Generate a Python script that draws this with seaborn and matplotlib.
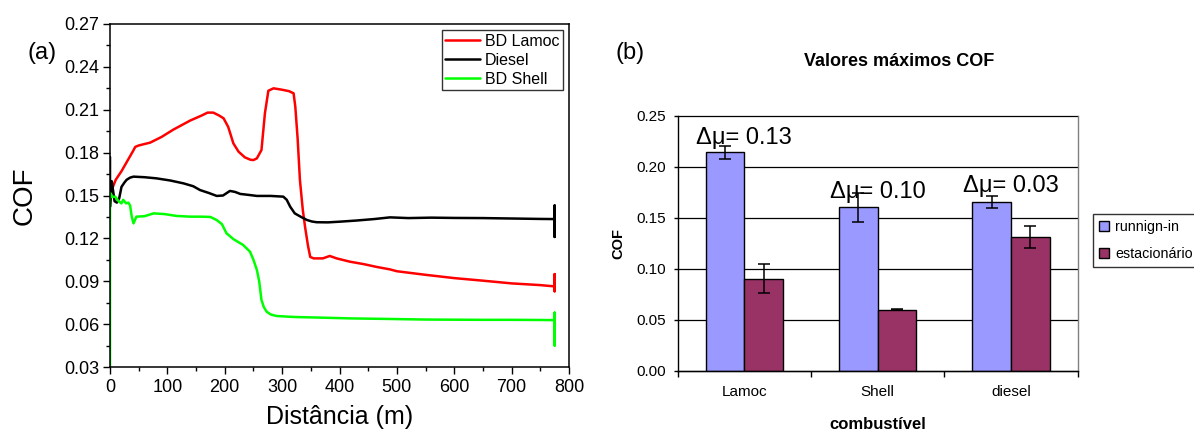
import pandas as pd
import seaborn as sns
import matplotlib.pyplot as plt
from matplotlib.ticker import MultipleLocator, FormatStrFormatter, FixedLocator

# (a) curvas de COF x distancia
dist_lamoc = [0, 5, 10, 20, 30, 40, 44, 50, 70, 90,
              110, 140, 160, 170, 180, 190, 198, 206, 215, 224,
              235, 245, 250, 256, 264, 270, 276, 285, 300, 312,
              320, 323, 327, 331, 336, 340, 345, 349, 355, 371,
              383, 395, 418, 442, 465, 488, 500, 550, 600, 650,
              700, 750, 775, 775, 775, 775]
cof_lamoc = [0.151, 0.156, 0.161, 0.167, 0.174, 0.181, 0.184, 0.185, 0.187, 0.191,
             0.196, 0.2025, 0.206, 0.208, 0.208, 0.206, 0.204, 0.198, 0.1865, 0.1807,
             0.1767, 0.175, 0.1748, 0.176, 0.1818, 0.2075, 0.2233, 0.225, 0.224, 0.223,
             0.2215, 0.212, 0.19, 0.161, 0.14, 0.128, 0.115, 0.107, 0.106, 0.106,
             0.1077, 0.106, 0.1037, 0.102, 0.1, 0.0983, 0.097, 0.0945, 0.0922, 0.0904,
             0.0885, 0.0873, 0.0864, 0.095, 0.083, 0.086]

dist_diesel = [0, 0, 3, 8, 12, 16, 20, 25, 29, 35,
               41, 60, 81, 105, 128, 145, 157, 172, 186, 197,
               209, 218, 227, 240, 256, 280, 302, 308, 314, 322,
               333, 343, 352, 360, 380, 401, 430, 460, 488, 520,
               560, 600, 650, 700, 750, 775, 775, 775, 775]
cof_diesel = [0.177, 0.142, 0.16, 0.146, 0.145, 0.148, 0.156, 0.159, 0.161, 0.1625,
              0.1632, 0.1628, 0.162, 0.1605, 0.1585, 0.1565, 0.1538, 0.1518, 0.1497, 0.150,
              0.1532, 0.1525, 0.1511, 0.1505, 0.1497, 0.1497, 0.1492, 0.147, 0.1422, 0.1375,
              0.135, 0.1329, 0.1318, 0.1313, 0.1312, 0.1317, 0.1325, 0.1335, 0.1347, 0.1342,
              0.1345, 0.1343, 0.1342, 0.1339, 0.1336, 0.1335, 0.143, 0.121, 0.133]

dist_shell = [0, 0, 4, 9, 15, 20, 23, 28, 32, 35,
              38, 41, 46, 60, 76, 95, 116, 140, 157, 175,
              186, 195, 203, 215, 232, 244, 250, 256, 260, 264,
              268, 273, 280, 290, 320, 372, 420, 488, 550, 600,
              650, 700, 750, 775, 775, 775, 775]
cof_shell = [0.03, 0.152, 0.149, 0.1492, 0.146, 0.1445, 0.147, 0.1445, 0.145, 0.143,
             0.135, 0.1305, 0.1352, 0.1355, 0.1375, 0.137, 0.1357, 0.1352, 0.1352, 0.135,
             0.1328, 0.130, 0.1236, 0.1195, 0.1154, 0.1107, 0.105, 0.0979, 0.090, 0.0769,
             0.072, 0.0687, 0.0668, 0.0657, 0.065, 0.0645, 0.064, 0.0636, 0.0632, 0.0631,
             0.063, 0.063, 0.0629, 0.0628, 0.068, 0.045, 0.063]

# (b) valores maximos de COF
combustiveis = ['Lamoc', 'Shell', 'diesel']
cof_running = [0.214, 0.160, 0.165]
err_running = [0.0065, 0.0145, 0.0058]
cof_estac = [0.090, 0.060, 0.131]
err_estac = [0.0143, 0.0004, 0.011]
delta_mu = ['Δμ= 0.13', 'Δμ= 0.10', 'Δμ= 0.03']
delta_y = [0.222, 0.1696, 0.1749]

sns.set_style("ticks", {'axes.edgecolor': 'black', 'text.color': 'black',
                        'xtick.color': 'black', 'ytick.color': 'black',
                        'axes.labelcolor': 'black'})
plt.rcParams['font.family'] = ['Liberation Sans', 'DejaVu Sans']

fig = plt.figure(figsize=(11.94, 4.33), dpi=100)
W, H = 1194, 433
ax1 = fig.add_axes([110 / W, (H - 367) / H, 459 / W, 343 / H])
ax2 = fig.add_axes([677.7 / W, (H - 370.7) / H, 400 / W, 255 / H])

# grafico (a)
series = [(dist_lamoc, cof_lamoc, 'BD Lamoc', '#ff0000'),
          (dist_diesel, cof_diesel, 'Diesel', 'black'),
          (dist_shell, cof_shell, 'BD Shell', '#00ff00')]
for d, c, nome, cor in series:
    sns.lineplot(x=d, y=c, sort=False, estimator=None, color=cor, lw=1.8,
                 label=nome, ax=ax1)

ax1.set_xlim(0, 800)
ax1.set_ylim(0.03, 0.27)
ax1.xaxis.set_major_locator(MultipleLocator(100))
ax1.xaxis.set_minor_locator(MultipleLocator(50))
ax1.yaxis.set_major_locator(MultipleLocator(0.03))
ax1.yaxis.set_minor_locator(MultipleLocator(0.015))
ax1.yaxis.set_major_formatter(FormatStrFormatter('%.2f'))
ax1.tick_params(which='major', direction='out', length=5, width=1,
                labelsize=13, pad=2.5)
ax1.tick_params(axis='x', which='major', pad=4)
ax1.tick_params(which='minor', direction='out', length=3, width=1)
for s in ax1.spines.values():
    s.set_linewidth(1.1)
ax1.set_xlabel('Distância (m)', fontsize=18, labelpad=6)
ax1.set_ylabel('COF', fontsize=20, labelpad=19)
leg1 = ax1.legend(loc='upper right', fontsize=11.5, frameon=True, fancybox=False,
                  edgecolor='black', handlelength=2.2, borderpad=0.2,
                  labelspacing=0.25, handletextpad=0.3, borderaxespad=0.4)
leg1.get_frame().set_linewidth(1)
fig.text(42 / W, 1 - 53 / H, '(a)', ha='center', va='center', fontsize=17)

# grafico (b)
df = pd.DataFrame({'combustivel': combustiveis * 2,
                   'fase': ['runnign-in'] * 3 + ['estacionário'] * 3,
                   'cof': cof_running + cof_estac})
sns.barplot(data=df, x='combustivel', y='cof', hue='fase',
            palette=['#9999ff', '#993366'], saturation=1, width=0.58,
            edgecolor='black', linewidth=1, errorbar=None, ax=ax2)

for cont, erros in zip(ax2.containers, [err_running, err_estac]):
    xs = [b.get_x() + b.get_width() / 2 for b in cont]
    ys = [b.get_height() for b in cont]
    ax2.errorbar(xs, ys, yerr=erros, fmt='none', ecolor='black',
                 elinewidth=1.1, capsize=4, capthick=1.1, zorder=5)

for i, txt in enumerate(delta_mu):
    ax2.text(i, delta_y[i], txt, ha='center', va='baseline', fontsize=17, zorder=6)

ax2.set_xlim(-0.5, 2.5)
ax2.set_ylim(0, 0.25)
ax2.yaxis.set_major_locator(MultipleLocator(0.05))
ax2.yaxis.set_major_formatter(FormatStrFormatter('%.2f'))
ax2.xaxis.set_minor_locator(FixedLocator([-0.5, 0.5, 1.5, 2.5]))
ax2.tick_params(axis='x', which='major', length=0, labelsize=11, pad=10)
ax2.tick_params(axis='x', which='minor', direction='out', length=4, width=1)
ax2.tick_params(axis='y', direction='out', length=3, width=1, labelsize=11, pad=5.5)
ax2.yaxis.grid(True, color='black', lw=0.9, clip_on=False)
ax2.set_axisbelow(True)
ax2.spines['top'].set_visible(False)
ax2.spines['right'].set_color('#808080')
for s in ax2.spines.values():
    s.set_linewidth(1)
ax2.set_xlabel('combustível', fontsize=12, fontweight='bold', labelpad=13)
ax2.set_ylabel('COF', fontsize=10.5, fontweight='bold', labelpad=8)

handles, labels = ax2.get_legend_handles_labels()
ax2.legend_.remove()
leg2 = fig.legend(handles, labels, loc='upper left',
                  bbox_to_anchor=(1093 / W, (H - 214) / H), fontsize=10.3,
                  frameon=True, fancybox=False, edgecolor='black',
                  handlelength=0.7, handleheight=0.7, handletextpad=0.4,
                  borderpad=0.45, labelspacing=0.85, borderaxespad=0)
leg2.get_frame().set_linewidth(1)

fig.text(899 / W, 1 - 61 / H, 'Valores máximos COF', ha='center', va='center',
         fontsize=13, fontweight='bold')
fig.text(630 / W, 1 - 53 / H, '(b)', ha='center', va='center', fontsize=17)

fig.savefig('out.png', dpi=100)
